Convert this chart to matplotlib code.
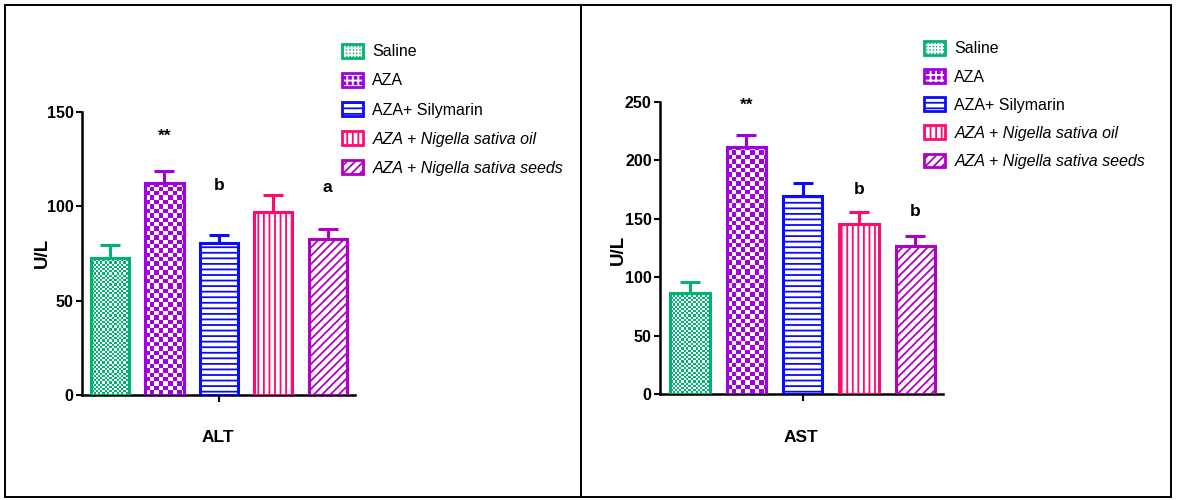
import numpy as np
import matplotlib
matplotlib.use("Agg")
import matplotlib.pyplot as plt
import matplotlib.font_manager as fm
from matplotlib.colors import ListedColormap
from matplotlib.patches import Patch, Rectangle
from matplotlib.legend_handler import HandlerTuple

# ---------------- data ----------------
groups = ["Saline", "AZA", "AZA+ Silymarin", "AZA + Nigella sativa oil", "AZA + Nigella sativa seeds"]
alt_mean = [72.8, 112.5, 80.4, 96.8, 82.5]
alt_err = [6.7, 6.3, 4.4, 9.2, 5.3]
ast_mean = [86.1, 211.5, 169.4, 145.4, 126.9]
ast_err = [9.4, 10.0, 11.4, 10.0, 8.5]
alt_sig = ["", "**", "b", "", "a"]
ast_sig = ["", "**", "", "b", "b"]
alt_ticks = [0, 50, 100, 150]
ast_ticks = [0, 50, 100, 150, 200, 250]

# ---------------- style ----------------
colors = ["#00b36e", "#a000e0", "#0a0aff", "#ff0a6e", "#b000c4"]
styles = ["check_fine", "check", "---", "|||", "////"]
alt_sig_y = [0, 137, 111, 0, 110]
ast_sig_y = [0, 247, 0, 174.5, 156]

names = {f.name for f in fm.fontManager.ttflist}
NARROW = "Liberation Sans Narrow" in names
FAM = ["Liberation Sans Narrow", "Liberation Sans", "DejaVu Sans"] if NARROW else ["Liberation Sans", "DejaVu Sans"]
plt.rcParams["font.family"] = FAM
plt.rcParams["hatch.linewidth"] = 1.3

W, H = 1177, 500
fig = plt.figure(figsize=(W / 100, H / 100), dpi=100)

fs_tick = 12.5 if NARROW else 11.5
fs_lab = 14 if NARROW else 12.5
fs_leg = 13 if NARROW else 11.5


def make_panel(rect, means, errs, ticks, ymax, xlim, sig, sig_y, xlabel, xlabel_x, ylab_x, ylab_y, leg_anchor, lsp):
    ax = fig.add_axes(rect)
    x = np.arange(len(means))
    ax.set_xlim(*xlim)
    ax.set_ylim(0, ymax)
    w = 0.70
    for i in range(len(means)):
        st = styles[i]
        if st.startswith("check"):
            bar = ax.bar(x[i], means[i], w, facecolor="none", edgecolor=colors[i], linewidth=2.2, zorder=3)[0]
            p0 = ax.transData.transform((x[i] - w / 2, 0))
            p1 = ax.transData.transform((x[i] + w / 2, means[i]))
            nx = int(round(p1[0] - p0[0]))
            ny = int(round(p1[1] - p0[1]))
            c = 2.2 if st == "check_fine" else 4.4
            ii = (np.arange(ny)[:, None] / c).astype(int)
            jj = (np.arange(nx)[None, :] / c).astype(int)
            arr = (ii + jj) % 2
            cmap = ListedColormap(["white", colors[i]])
            im = ax.imshow(arr, extent=(x[i] - w / 2, x[i] + w / 2, 0, means[i]), cmap=cmap,
                           interpolation="nearest", aspect="auto", origin="lower", zorder=2)
            im.set_clip_path(bar)
        else:
            ax.bar(x[i], means[i], w, facecolor="white", edgecolor=colors[i], linewidth=2.2,
                   hatch=st, zorder=3)
        ax.errorbar(x[i], means[i], yerr=[[0], [errs[i]]], fmt="none", ecolor=colors[i],
                    elinewidth=2.2, capsize=7.5, capthick=2.2, zorder=2.5)
        if sig[i]:
            ax.text(x[i], sig_y[i], sig[i], ha="center", va="center", fontsize=fs_lab,
                    fontweight="bold", clip_on=False)
    ax.set_xlim(*xlim)
    ax.set_ylim(0, ymax)
    for s in ["top", "right"]:
        ax.spines[s].set_visible(False)
    for s in ["left", "bottom"]:
        ax.spines[s].set_linewidth(1.8)
    ax.set_yticks(ticks)
    ax.set_yticklabels([str(t) for t in ticks], fontsize=fs_tick, fontweight="bold")
    ax.tick_params(axis="y", length=4, width=1.5, pad=2)
    ax.set_xticks([2])
    ax.set_xticklabels([""])
    ax.tick_params(axis="x", length=5, width=1.5)
    fig.text(xlabel_x / W, 1 - 438 / H, xlabel, ha="center", va="center", fontsize=fs_lab, fontweight="bold")
    fig.text(ylab_x / W, 1 - ylab_y / H, "U/L", ha="center", va="center", rotation=90,
             fontsize=fs_lab + 1, fontweight="bold")

    handles = []
    for i in range(len(groups)):
        st = styles[i]
        if st.startswith("check"):
            h = (Patch(facecolor=colors[i], edgecolor="white", hatch="+++++" if st == "check_fine" else "+++", linewidth=0),
                 Patch(facecolor="none", edgecolor=colors[i], linewidth=2.0))
        else:
            h = (Patch(facecolor="white", edgecolor=colors[i], hatch=st, linewidth=2.0),)
        handles.append(h)
    leg = ax.legend(handles, groups, handler_map={tuple: HandlerTuple(ndivide=1, pad=0)},
                    loc="upper left", bbox_to_anchor=leg_anchor, bbox_transform=fig.transFigure,
                    frameon=False, fontsize=fs_leg, handlelength=1.3, handleheight=0.95,
                    handletextpad=0.6, labelspacing=lsp, borderpad=0, borderaxespad=0)
    for t in leg.get_texts()[3:]:
        t.set_fontstyle("italic")
    return ax


make_panel([82 / W, (H - 395) / H, (355 - 82) / W, (395 - 112) / H], alt_mean, alt_err, alt_ticks, 150,
           (-0.515, 4.50), alt_sig, alt_sig_y, "ALT", 218, 42, 253, (342 / W, 1 - 44 / H), 0.86)
make_panel([660 / W, (H - 394) / H, (943 - 660) / W, (394 - 101.7) / H], ast_mean, ast_err, ast_ticks, 250,
           (-0.53, 4.49), ast_sig, ast_sig_y, "AST", 801, 618, 250, (924 / W, 1 - 41 / H), 0.80)

# panel frames
fig.add_artist(Rectangle((5 / W, 3 / H), (581 - 5) / W, (496 - 4) / H, transform=fig.transFigure,
                         fill=False, linewidth=1.4, edgecolor="black"))
fig.add_artist(Rectangle((581 / W, 3 / H), (1171 - 581) / W, (496 - 4) / H, transform=fig.transFigure,
                         fill=False, linewidth=1.4, edgecolor="black"))

fig.savefig("out.png", dpi=100)
